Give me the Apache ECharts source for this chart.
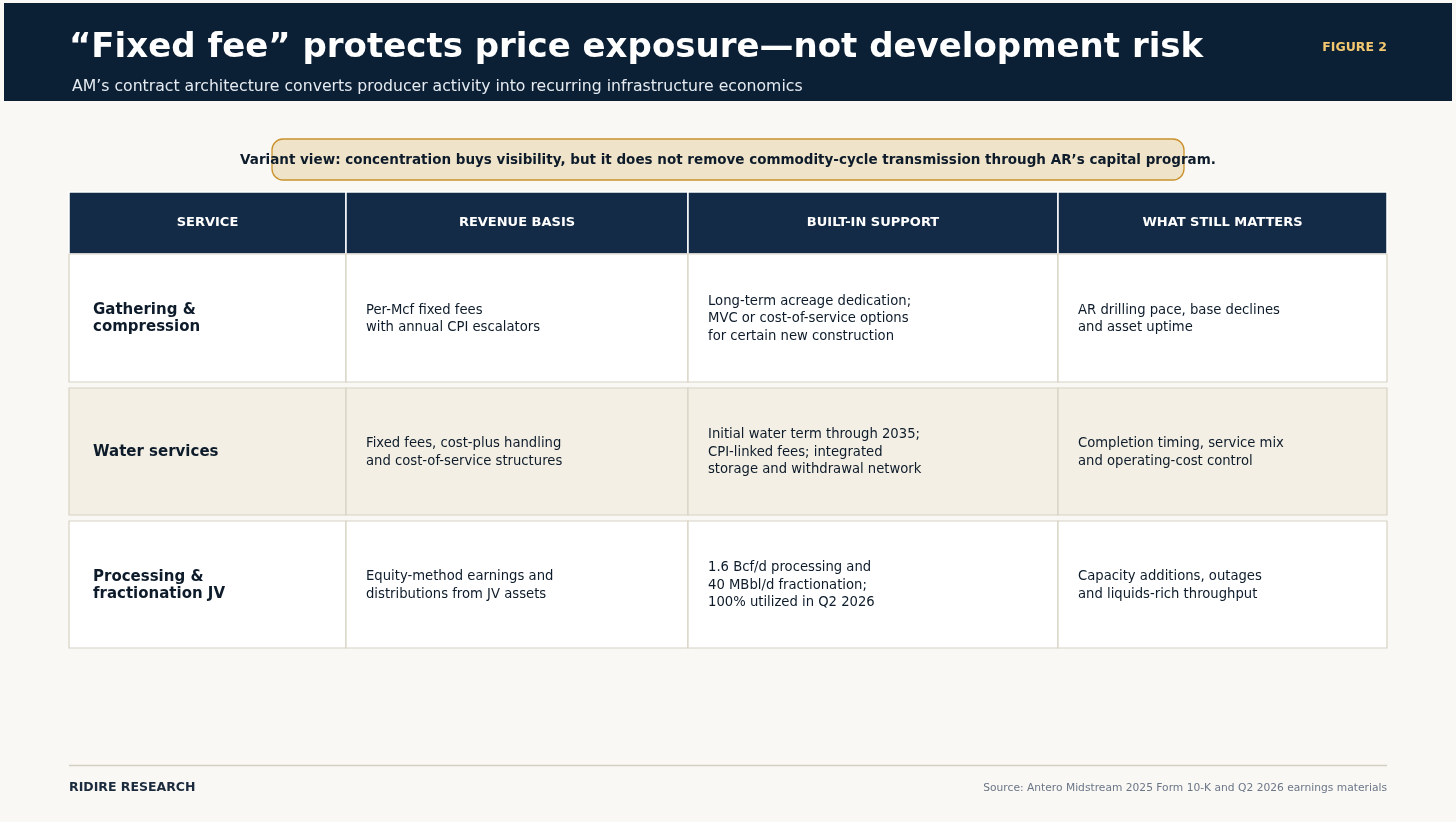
<!DOCTYPE html>
<html>
<head>
<meta charset="utf-8">
<script src="https://cdn.jsdelivr.net/npm/echarts@6/dist/echarts.min.js"></script>
<style>
  html, body { margin: 0; padding: 0; background: #f9f8f4; }
  #main { width: 1456px; height: 822px; }
</style>
</head>
<body>
<div id="main"></div>
<script>
// table content
const columns = ['SERVICE', 'REVENUE BASIS', 'BUILT-IN SUPPORT', 'WHAT STILL MATTERS']
const services = ['Gathering &\ncompression', 'Water services', 'Processing &\nfractionation JV']
const revenueBasis = [
  'Per-Mcf fixed fees\nwith annual CPI escalators',
  'Fixed fees, cost-plus handling\nand cost-of-service structures',
  'Equity-method earnings and\ndistributions from JV assets'
]
const builtInSupport = [
  'Long-term acreage dedication;\nMVC or cost-of-service options\nfor certain new construction',
  'Initial water term through 2035;\nCPI-linked fees; integrated\nstorage and withdrawal network',
  '1.6 Bcf/d processing and\n40 MBbl/d fractionation;\n100% utilized in Q2 2026'
]
const stillMatters = [
  'AR drilling pace, base declines\nand asset uptime',
  'Completion timing, service mix\nand operating-cost control',
  'Capacity additions, outages\nand liquids-rich throughput'
]

// layout in table units (px)
const colEdges = [0, 277, 619, 989, 1318]
const rowSpans = [[0, 62], [62, 190], [196, 323], [329, 456]]
const rowFill = ['#132b47', '#ffffff', '#f3efe4', '#ffffff']
const FONT = '"DejaVu Sans", Verdana, sans-serif'

const cells = []
columns.forEach((t, c) => cells.push([c, 0, t]))
services.forEach((s, i) => {
  ;[s, revenueBasis[i], builtInSupport[i], stillMatters[i]].forEach((t, c) => cells.push([c, i + 1, t]))
})

var myChart = echarts.init(document.getElementById('main'))

const option = {
  backgroundColor: '#f9f8f4',
  animation: false,
  grid: { left: 69, top: 192, width: 1318, height: 456 },
  xAxis: { type: 'value', min: 0, max: 1318, show: false },
  yAxis: { type: 'value', min: 0, max: 456, inverse: true, show: false },
  graphic: [
    { type: 'rect', shape: { x: 4, y: 3, width: 1448, height: 98 }, style: { fill: '#0b1f35' } },
    {
      type: 'text', x: 69, y: 48,
      style: { text: '\u201cFixed fee\u201d protects price exposure\u2014not development risk', fill: '#ffffff', font: 'bold 34px ' + FONT, verticalAlign: 'middle' }
    },
    {
      type: 'text', x: 72, y: 87,
      style: { text: 'AM\u2019s contract architecture converts producer activity into recurring infrastructure economics', fill: '#e6ebf1', font: '15.7px ' + FONT, verticalAlign: 'middle' }
    },
    {
      type: 'text', x: 1387, y: 48,
      style: { text: 'FIGURE 2', fill: '#f2c770', font: 'bold 12.5px ' + FONT, align: 'right', verticalAlign: 'middle' }
    },
    {
      type: 'rect', shape: { x: 272, y: 139, width: 912, height: 41, r: 11 },
      style: { fill: '#efe3c9', stroke: '#c9922c', lineWidth: 1.3 }
    },
    {
      type: 'text', x: 728, y: 160,
      style: { text: 'Variant view: concentration buys visibility, but it does not remove commodity-cycle transmission through AR\u2019s capital program.', fill: '#0d1b2a', font: 'bold 13.5px ' + FONT, align: 'center', verticalAlign: 'middle' }
    },
    { type: 'line', shape: { x1: 69, y1: 765.5, x2: 1387, y2: 765.5 }, style: { stroke: '#d3cfc3', lineWidth: 1.3 } },
    {
      type: 'text', x: 69, y: 788,
      style: { text: 'RIDIRE RESEARCH', fill: '#1b2b3d', font: 'bold 12.5px ' + FONT, verticalAlign: 'middle' }
    },
    {
      type: 'text', x: 1387, y: 788,
      style: { text: 'Source: Antero Midstream 2025 Form 10-K and Q2 2026 earnings materials', fill: '#6b7687', font: '10.7px ' + FONT, align: 'right', verticalAlign: 'middle' }
    }
  ],
  series: [
    {
      type: 'custom',
      clip: false,
      silent: true,
      data: cells.map(d => ({ value: [d[0], d[1]], text: d[2] })),
      renderItem: function (params, api) {
        const c = api.value(0)
        const r = api.value(1)
        const text = cells[params.dataIndex][2]
        const p0 = api.coord([colEdges[c], rowSpans[r][0]])
        const p1 = api.coord([colEdges[c + 1], rowSpans[r][1]])
        const x = p0[0], y = p0[1], w = p1[0] - p0[0], h = p1[1] - p0[1]
        const isHead = r === 0
        let textStyle
        if (isHead) {
          textStyle = { text: text, x: x + w / 2, y: y + h / 2, fill: '#ffffff', font: 'bold 13px ' + FONT, align: 'center', verticalAlign: 'middle' }
        } else if (c === 0) {
          textStyle = { text: text, x: x + 24, y: y + h / 2 + 1, fill: '#0d1b2a', font: 'bold 15px ' + FONT, lineHeight: 17, align: 'left', verticalAlign: 'middle' }
        } else {
          textStyle = { text: text, x: x + 20, y: y + h / 2 + 1, fill: '#0d1b2a', font: '13.2px ' + FONT, lineHeight: 17.5, align: 'left', verticalAlign: 'middle' }
        }
        return {
          type: 'group',
          children: [
            {
              type: 'rect',
              shape: { x: x, y: y, width: w, height: h },
              style: { fill: rowFill[r], stroke: isHead ? '#ffffff' : '#d8d2c3', lineWidth: isHead ? 1.5 : 1.2 }
            },
            { type: 'text', style: textStyle }
          ]
        }
      }
    }
  ]
}

option && myChart.setOption(option)
</script>
</body>
</html>
